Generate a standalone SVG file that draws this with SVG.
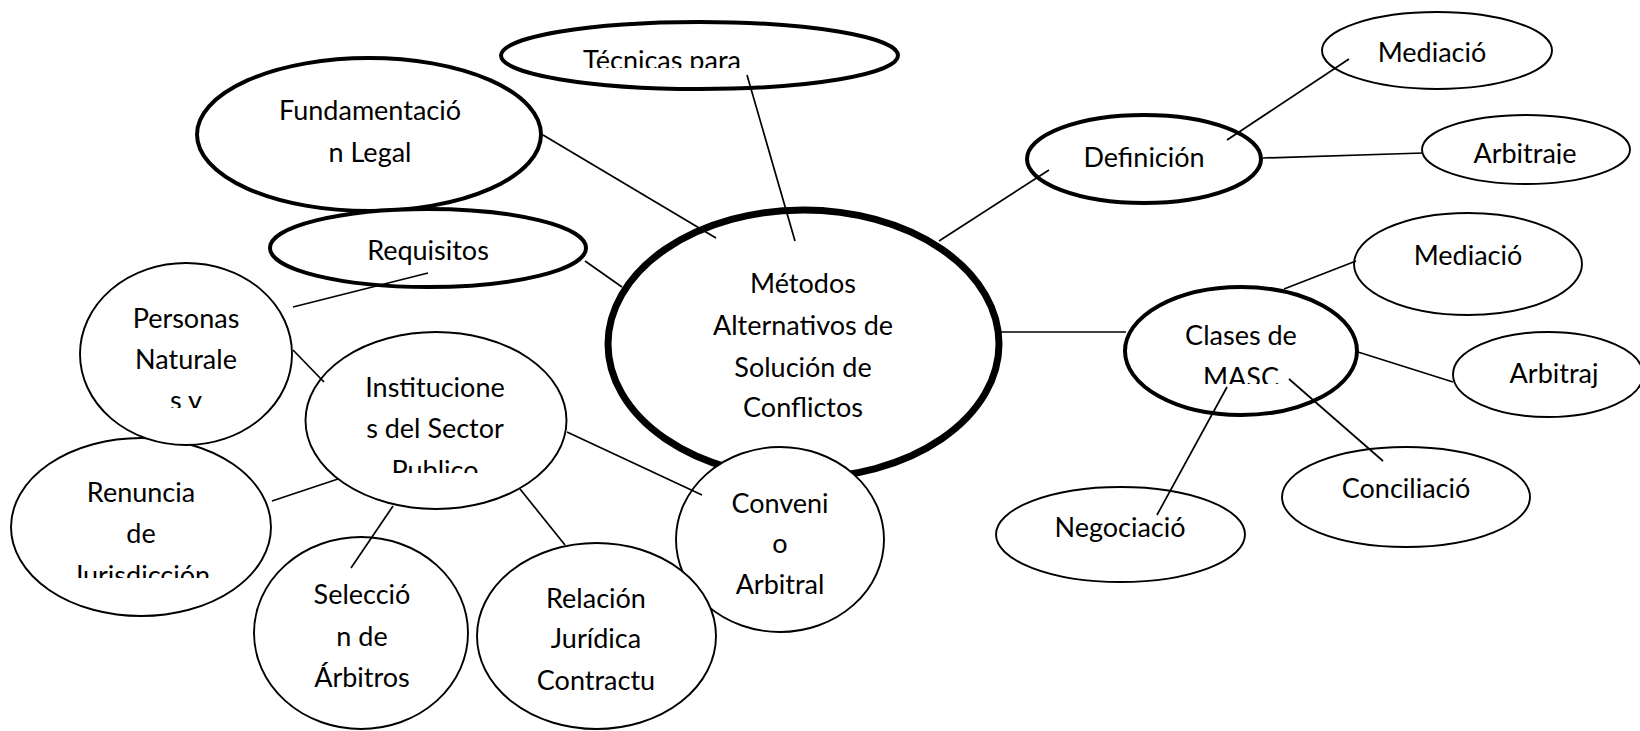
<svg xmlns="http://www.w3.org/2000/svg" width="1640" height="731" viewBox="0 0 1640 731">
<style>
.n{fill:#fff;stroke:#000;stroke-width:1.9}
.k{fill:#fff;stroke:#000;stroke-width:4}
.m{fill:#fff;stroke:#000;stroke-width:7}
text{font-family:Lato,"Noto Sans","Liberation Sans",sans-serif;font-size:27px;fill:#000;text-anchor:middle}
#edges line{stroke:#000;stroke-width:1.7}
</style>
<defs>
<clipPath id="c1"><rect x="0" y="0" width="1640" height="68"/></clipPath>
<clipPath id="c2"><rect x="0" y="0" width="1640" height="408"/></clipPath>
<clipPath id="c3"><rect x="0" y="0" width="1640" height="473"/></clipPath>
<clipPath id="c4"><rect x="0" y="0" width="1640" height="578"/></clipPath>
<clipPath id="c5"><rect x="0" y="0" width="1640" height="384"/></clipPath>
<clipPath id="c6"><rect x="0" y="0" width="1640" height="164"/></clipPath>
</defs>
<rect width="1640" height="731" fill="#fff"/>
<g id="main"><ellipse class="m" cx="803.5" cy="344" rx="195.5" ry="134"/>
<text x="803" y="293">Métodos</text><text x="803" y="335">Alternativos de</text><text x="803" y="377">Solución de</text><text x="803" y="417">Conflictos</text></g>
<g id="tecnicas"><ellipse class="k" cx="699.5" cy="55.5" rx="198.5" ry="33.5"/>
<text x="662" y="70" clip-path="url(#c1)">Técnicas para</text></g>
<g id="fundamentacion"><ellipse class="k" cx="369" cy="134.5" rx="172" ry="76.5"/>
<text x="370" y="120">Fundamentació</text><text x="370" y="162">n Legal</text></g>
<g id="requisitos"><ellipse class="k" cx="428" cy="248" rx="158" ry="39"/>
<text x="428" y="260">Requisitos</text></g>
<g id="renuncia"><ellipse class="n" cx="141" cy="527" rx="130" ry="89"/>
<text x="141" y="502">Renuncia</text><text x="141" y="543">de</text><text x="141" y="585" clip-path="url(#c4)">Jurisdicción</text></g>
<g id="personas"><ellipse class="n" cx="186" cy="354" rx="106" ry="91"/>
<text x="186" y="328">Personas</text><text x="186" y="369">Naturale</text><text x="186" y="410" clip-path="url(#c2)">s y</text></g>
<g id="instituciones"><ellipse class="n" cx="436" cy="420.5" rx="130.5" ry="88.5"/>
<text x="435" y="397">Institucione</text><text x="435" y="438">s del Sector</text><text x="435" y="480" clip-path="url(#c3)">Publico</text></g>
<g id="seleccion"><ellipse class="n" cx="361" cy="633" rx="107" ry="96"/>
<text x="362" y="604">Selecció</text><text x="362" y="646">n de</text><text x="362" y="687">Árbitros</text></g>
<g id="convenio"><ellipse class="n" cx="780" cy="539.5" rx="104" ry="92.5"/>
<text x="780" y="513">Conveni</text><text x="780" y="553">o</text><text x="780" y="594">Arbitral</text></g>
<g id="relacion"><ellipse class="n" cx="596.5" cy="636" rx="119.5" ry="93"/>
<text x="596" y="608">Relación</text><text x="596" y="648">Jurídica</text><text x="596" y="690">Contractu</text></g>
<g id="definicion"><ellipse class="k" cx="1144" cy="159" rx="117" ry="44"/>
<text x="1144" y="167">Definición</text></g>
<g id="mediacion1"><ellipse class="n" cx="1437" cy="50.5" rx="115" ry="38.5"/>
<text x="1432" y="62">Mediació</text></g>
<g id="arbitraje1"><ellipse class="n" cx="1526" cy="149.5" rx="104" ry="34.5"/>
<text x="1525" y="163" clip-path="url(#c6)">Arbitraje</text></g>
<g id="clases"><ellipse class="k" cx="1241" cy="351" rx="116" ry="64"/>
<text x="1241" y="345">Clases de</text><text x="1241" y="387" clip-path="url(#c5)">MASC</text></g>
<g id="mediacion2"><ellipse class="n" cx="1468" cy="264" rx="114" ry="51"/>
<text x="1468" y="265">Mediació</text></g>
<g id="arbitraje2"><ellipse class="n" cx="1548" cy="374.5" rx="95" ry="42.5"/>
<text x="1554" y="383">Arbitraj</text></g>
<g id="conciliacion"><ellipse class="n" cx="1406" cy="497" rx="124" ry="50"/>
<text x="1406" y="498">Conciliació</text></g>
<g id="negociacion"><ellipse class="n" cx="1120.5" cy="534.5" rx="124.5" ry="47.5"/>
<text x="1120" y="537">Negociació</text></g>
<g id="edges">
<line x1="747" y1="75" x2="795" y2="241"/>
<line x1="543" y1="135" x2="716" y2="238"/>
<line x1="585" y1="261" x2="622" y2="287"/>
<line x1="428" y1="273" x2="293" y2="307"/>
<line x1="293" y1="350" x2="324" y2="382"/>
<line x1="272" y1="501" x2="338" y2="479"/>
<line x1="393" y1="506" x2="351" y2="568"/>
<line x1="520" y1="489" x2="565" y2="545"/>
<line x1="567" y1="432" x2="702" y2="495"/>
<line x1="939" y1="241" x2="1049" y2="170"/>
<line x1="1000" y1="332" x2="1126" y2="332"/>
<line x1="1227" y1="140" x2="1349" y2="59"/>
<line x1="1263" y1="158" x2="1423" y2="153"/>
<line x1="1284" y1="289" x2="1356" y2="261"/>
<line x1="1358" y1="352" x2="1453" y2="382"/>
<line x1="1289" y1="379" x2="1383" y2="461"/>
<line x1="1227" y1="387" x2="1157" y2="515"/>
</g>
</svg>
